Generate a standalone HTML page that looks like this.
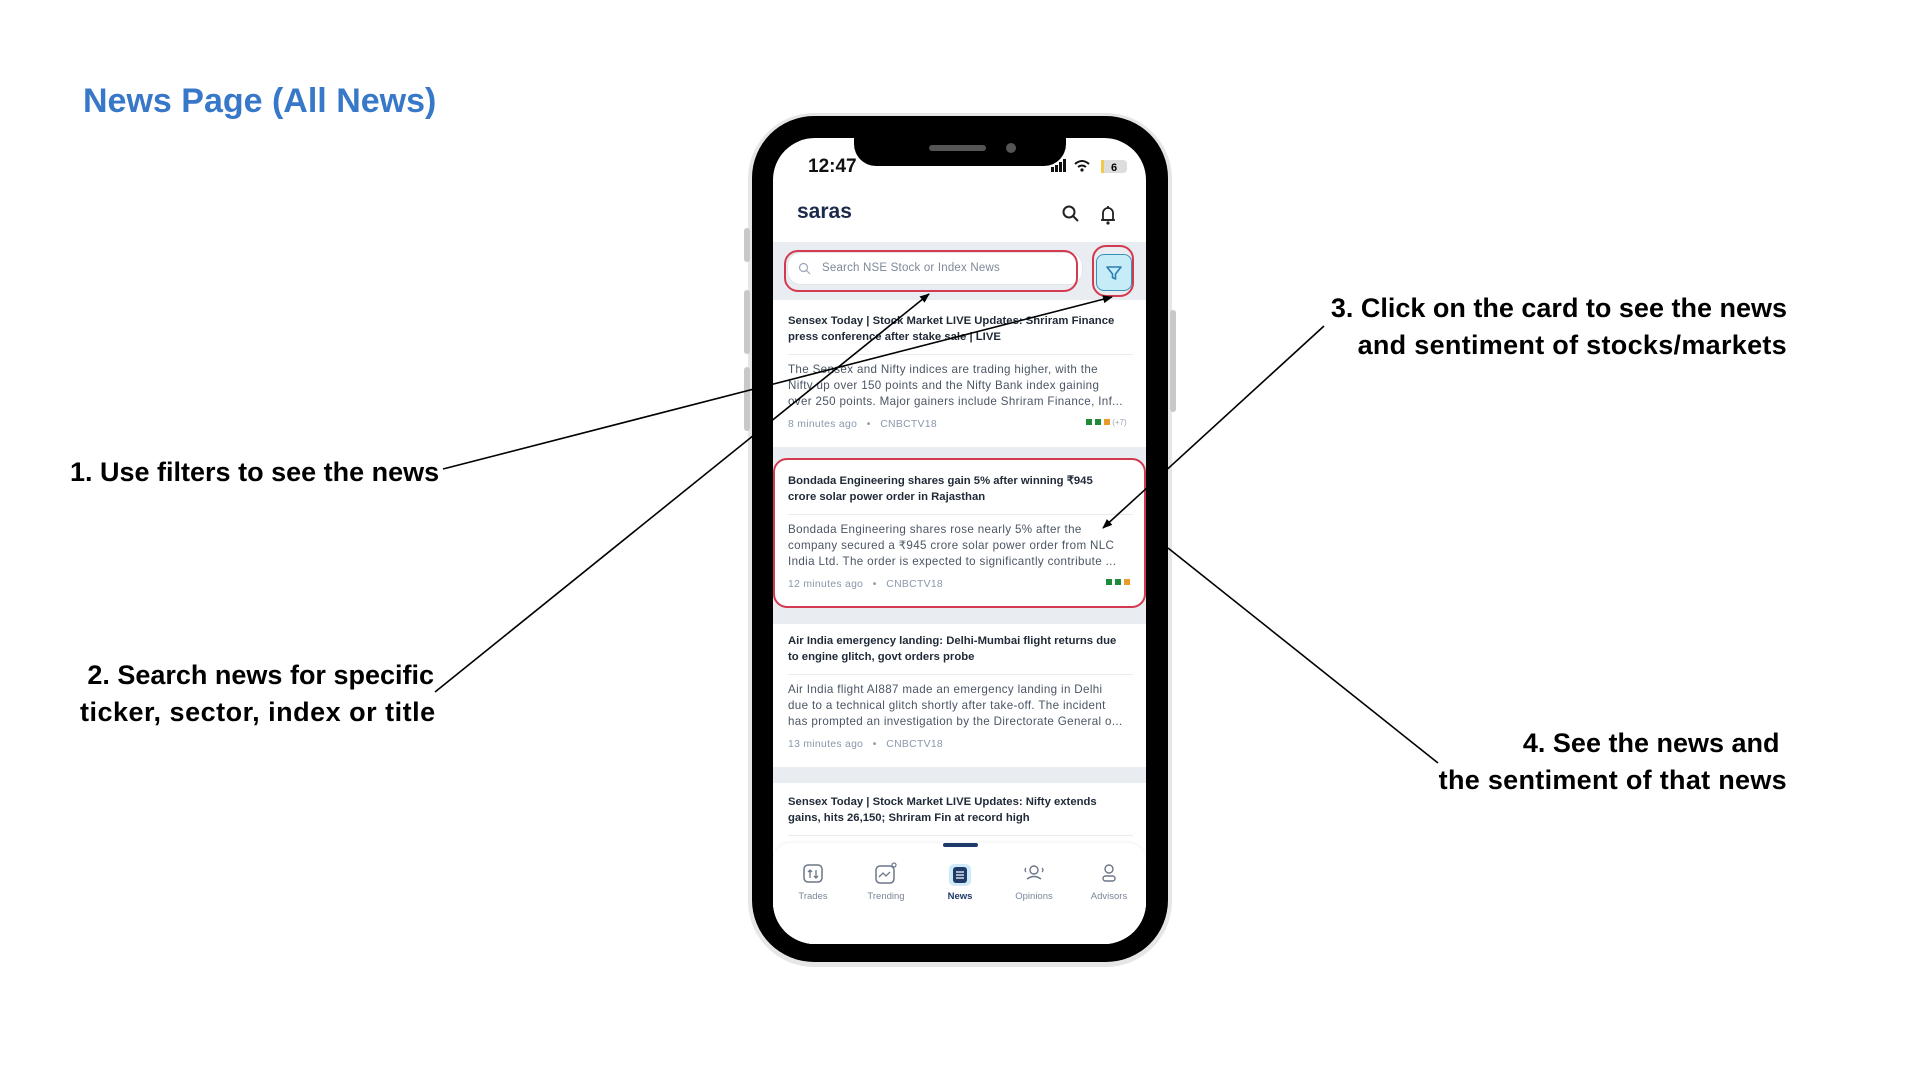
<!DOCTYPE html>
<html><head><meta charset="utf-8">
<style>
*{margin:0;padding:0;box-sizing:border-box}
body{width:1920px;height:1080px;background:#fff;position:relative;overflow:hidden;font-family:"Liberation Sans",sans-serif}
.a{position:absolute;white-space:nowrap}
.lbl{position:absolute;white-space:nowrap;font-weight:bold;font-size:27px;color:#000;line-height:37px}
.t{position:absolute;left:15px;font-size:11.3px;font-weight:bold;color:#1f2937;white-space:nowrap;line-height:16px}
.b{position:absolute;left:15px;font-size:11.6px;letter-spacing:0.35px;color:#4b5563;white-space:nowrap;line-height:16px}
.m{position:absolute;left:15px;font-size:10.4px;letter-spacing:0.3px;color:#8a97ab;white-space:nowrap;line-height:12px}
.div{position:absolute;left:15px;right:13px;height:1px;background:#e8ecf1}
.card{position:absolute;left:0;width:373px;background:#fff}
.sq{display:inline-block;width:6px;height:6px;margin-left:3px}
.nav{position:absolute;top:48px;font-size:9.5px;color:#7b8799;text-align:center;width:70px}
</style></head><body>
<div class="a" style="left:83px;top:82px;font-size:34px;font-weight:bold;color:#3878c8">News Page (All News)</div>

<div class="lbl" style="left:70px;top:454px">1. Use filters to see the news</div>
<div class="lbl" style="left:80px;top:657px;text-align:right;width:354px">2. Search news for specific<br><span style="letter-spacing:0.5px">ticker, sector, index or title</span></div>
<div class="lbl" style="left:1287px;top:290px;text-align:right;width:500px">3. Click on the card to see the news<br><span style="letter-spacing:0.3px">and sentiment of stocks/markets</span></div>
<div class="lbl" style="left:1387px;top:725px;text-align:right;width:400px">4. See the news and&nbsp;<br><span style="letter-spacing:0.3px">the sentiment of that news</span></div>

<!-- phone -->
<div class="a" style="left:748px;top:113px;width:424px;height:854px;border-radius:66px;background:#e6e6e6"></div>
<div class="a" style="left:744px;top:228px;width:6px;height:34px;border-radius:3px;background:#c8c8c8"></div>
<div class="a" style="left:744px;top:290px;width:6px;height:64px;border-radius:3px;background:#c8c8c8"></div>
<div class="a" style="left:744px;top:367px;width:6px;height:64px;border-radius:3px;background:#c8c8c8"></div>
<div class="a" style="left:1170px;top:310px;width:6px;height:102px;border-radius:3px;background:#c8c8c8"></div>
<div class="a" style="left:752px;top:116px;width:416px;height:846px;border-radius:62px;background:#000"></div>
<div class="a" style="left:773px;top:138px;width:373px;height:806px;border-radius:42px;background:#fff;overflow:hidden">
  <div class="a" style="left:81px;top:-2px;width:212px;height:30px;border-radius:0 0 22px 22px;background:#000"></div>
  <div class="a" style="left:156px;top:7px;width:57px;height:6px;border-radius:3px;background:#555"></div>
  <div class="a" style="left:233px;top:5px;width:10px;height:10px;border-radius:5px;background:#555"></div>
  <div class="a" style="left:35px;top:18px;font-size:19px;font-weight:bold;color:#111">12:47</div>
  <svg class="a" style="left:278px;top:21px" width="80" height="16">
    <rect x="0" y="8" width="3" height="5" fill="#111"/><rect x="4" y="6" width="3" height="7" fill="#111"/><rect x="8" y="3" width="3" height="10" fill="#111"/><rect x="12" y="0" width="3" height="13" fill="#111"/>
    <path d="M24 5 Q31 -1 38 5" stroke="#111" stroke-width="2" fill="none"/><path d="M27 8 Q31 5 35 8" stroke="#111" stroke-width="2" fill="none"/><circle cx="31" cy="11" r="1.6" fill="#111"/>
    <rect x="50" y="1" width="26" height="13" rx="4" fill="#ddd"/><rect x="50" y="1" width="3" height="13" fill="#f2c94c"/>
    <text x="60" y="12" font-size="11" font-weight="bold" font-family="Liberation Sans">6</text>
  </svg>
  <div class="a" style="left:24px;top:62px;font-size:21px;font-weight:bold;color:#1b2a4a">saras</div>
  <svg class="a" style="left:288px;top:66px" width="60" height="22">
    <circle cx="8" cy="8" r="5.5" stroke="#222" stroke-width="2" fill="none"/><line x1="12" y1="12" x2="17" y2="17" stroke="#222" stroke-width="2"/>
    <path d="M42 16 V9 a5 5 0 0 1 10 0 V16 Z" stroke="#222" stroke-width="1.8" fill="none"/><line x1="40" y1="16" x2="54" y2="16" stroke="#222" stroke-width="1.8"/><circle cx="47" cy="19" r="1.6" fill="#222"/><line x1="47" y1="2" x2="47" y2="4" stroke="#222" stroke-width="1.8"/>
  </svg>
  <div class="a" style="left:0;top:104px;width:373px;height:700px;background:#e9edf2"></div>
  <div class="a" style="left:14px;top:114px;width:296px;height:33px;border-radius:14px;background:#fff;border:1px solid #e0e5ec"></div>
  <svg class="a" style="left:25px;top:124px" width="14" height="14"><circle cx="5.5" cy="5.5" r="4" stroke="#9aa5b5" stroke-width="1.2" fill="none"/><line x1="8.5" y1="8.5" x2="12" y2="12" stroke="#9aa5b5" stroke-width="1.2"/></svg>
  <div class="a" style="left:49px;top:124px;font-size:11.5px;letter-spacing:0.2px;color:#7d8898">Search NSE Stock or Index News</div>
  <div class="a" style="left:11px;top:112px;width:294px;height:42px;border:2px solid #d33a50;border-radius:14px"></div>
  <div class="a" style="left:323px;top:116px;width:36px;height:37px;border-radius:8px;background:#c6ecf8;border:1px solid #3a8fb8"></div>
  <svg class="a" style="left:331px;top:125px" width="20" height="20"><path d="M3 4 H17 L11.5 11 V16 L8.5 14.5 V11 Z" stroke="#2a7fb0" stroke-width="1.6" fill="none" stroke-linejoin="round"/></svg>
  <div class="a" style="left:319px;top:107px;width:42px;height:52px;border:2px solid #d33a50;border-radius:14px"></div>

  <div class="card" style="top:162px;height:147px">
    <div class="t" style="top:13px">Sensex Today | Stock Market LIVE Updates: Shriram Finance<br>press conference after stake sale | LIVE</div>
    <div class="div" style="top:54px"></div>
    <div class="b" style="top:62px">The Sensex and Nifty indices are trading higher, with the<br>Nifty up over 150 points and the Nifty Bank index gaining<br>over 250 points. Major gainers include Shriram Finance, Inf...</div>
    <div class="m" style="top:119px">8 minutes ago &nbsp;&nbsp;•&nbsp;&nbsp; CNBCTV18</div>
    <div class="a" style="left:310px;top:118px;font-size:8px;color:#9aa5b5"><span class="sq" style="background:#1e8a3a"></span><span class="sq" style="background:#1e8a3a"></span><span class="sq" style="background:#e89a2a"></span> (+7)</div>
  </div>
  <div class="card" style="top:321px;height:148px;border-radius:14px">
    <div class="t" style="top:14px">Bondada Engineering shares gain 5% after winning ₹945<br>crore solar power order in Rajasthan</div>
    <div class="div" style="top:55px"></div>
    <div class="b" style="top:63px">Bondada Engineering shares rose nearly 5% after the<br>company secured a ₹945 crore solar power order from NLC<br>India Ltd. The order is expected to significantly contribute ...</div>
    <div class="m" style="top:120px">12 minutes ago &nbsp;&nbsp;•&nbsp;&nbsp; CNBCTV18</div>
    <div class="a" style="left:330px;top:119px;font-size:8px"><span class="sq" style="background:#1e8a3a"></span><span class="sq" style="background:#1e8a3a"></span><span class="sq" style="background:#e89a2a"></span></div>
  </div>
  <div class="a" style="left:0;top:320px;width:373px;height:150px;border:2px solid #d33a50;border-radius:14px"></div>
  <div class="card" style="top:486px;height:143px">
    <div class="t" style="top:9px">Air India emergency landing: Delhi-Mumbai flight returns due<br>to engine glitch, govt orders probe</div>
    <div class="div" style="top:50px"></div>
    <div class="b" style="top:58px">Air India flight AI887 made an emergency landing in Delhi<br>due to a technical glitch shortly after take-off. The incident<br>has prompted an investigation by the Directorate General o...</div>
    <div class="m" style="top:115px">13 minutes ago &nbsp;&nbsp;•&nbsp;&nbsp; CNBCTV18</div>
  </div>
  <div class="card" style="top:645px;height:200px">
    <div class="t" style="top:11px">Sensex Today | Stock Market LIVE Updates: Nifty extends<br>gains, hits 26,150; Shriram Fin at record high</div>
    <div class="div" style="top:52px"></div>
  </div>
  <div class="a" style="left:0;top:705px;width:373px;height:110px;background:#fff;border-radius:18px 18px 0 0;box-shadow:0 -1px 3px rgba(0,0,0,0.06)">
    <div class="a" style="left:170px;top:0;width:35px;height:4px;border-radius:2px;background:#1e3a6a"></div>
    <svg class="a" style="left:0;top:19px" width="373" height="24">
      <rect x="31" y="3" width="18" height="17" rx="4" stroke="#6b7688" stroke-width="1.5" fill="none"/><path d="M37 8 v8 M35 10 l2 -2 l2 2 M43 8 v8 M41 14 l2 2 l2 -2" stroke="#6b7688" stroke-width="1.3" fill="none"/>
      <rect x="103" y="4" width="18" height="17" rx="4" stroke="#6b7688" stroke-width="1.5" fill="none"/><path d="M106 15 l4 -4 l3 3 l4 -4" stroke="#6b7688" stroke-width="1.3" fill="none"/><circle cx="121" cy="3" r="2" stroke="#6b7688" stroke-width="1.2" fill="#fff"/>
      <rect x="176" y="2" width="22" height="22" rx="5" fill="#cfe9f8"/><rect x="180" y="5" width="14" height="16" rx="3" fill="#1e3a6a"/><path d="M183 10 h8 M183 13 h8 M183 16 h8" stroke="#fff" stroke-width="1.2"/>
      <circle cx="261" cy="8" r="4" stroke="#6b7688" stroke-width="1.4" fill="none"/><path d="M254 17 q7 -5 14 0" stroke="#6b7688" stroke-width="1.4" fill="none"/><path d="M253 6 q-2 2 0 4 M269 6 q2 2 0 4" stroke="#6b7688" stroke-width="1.3" fill="none"/>
      <circle cx="336" cy="7" r="4" stroke="#6b7688" stroke-width="1.4" fill="none"/><rect x="330" y="14" width="12" height="5" rx="2.5" stroke="#6b7688" stroke-width="1.4" fill="none"/>
    </svg>
    <div class="nav" style="left:5px">Trades</div>
    <div class="nav" style="left:78px">Trending</div>
    <div class="nav" style="left:152px;color:#1e3a6a;font-weight:bold">News</div>
    <div class="nav" style="left:226px">Opinions</div>
    <div class="nav" style="left:301px">Advisors</div>
  </div>
</div>

<svg class="a" style="left:0;top:0" width="1920" height="1080">
  <defs><marker id="ar" markerWidth="10" markerHeight="10" refX="9" refY="5" orient="auto" markerUnits="userSpaceOnUse"><path d="M0 1 L10 5 L0 9 Z" fill="#000"/></marker></defs>
  <g stroke="#000" stroke-width="1.6" fill="none">
    <line x1="443" y1="469" x2="1112" y2="297" marker-end="url(#ar)"/>
    <line x1="435" y1="692" x2="929" y2="294" marker-end="url(#ar)"/>
    <line x1="1324" y1="326" x2="1103" y2="528" marker-end="url(#ar)"/>
    <line x1="1168" y1="548" x2="1438" y2="763"/>
  </g>
</svg>
</body></html>
